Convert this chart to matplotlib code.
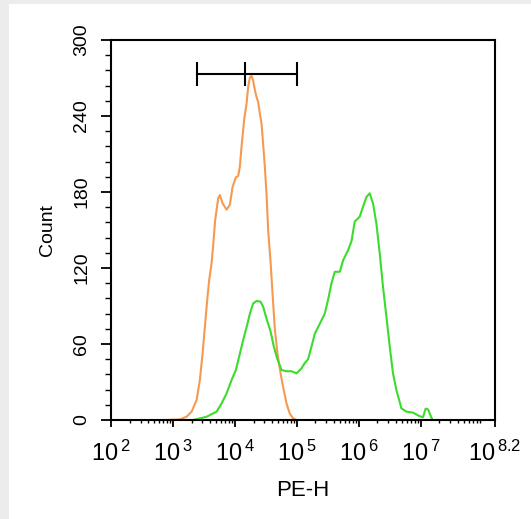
import matplotlib
matplotlib.use("Agg")
import matplotlib.pyplot as plt
from matplotlib.patches import Rectangle

# PE-H intensity vs count
orange_x = [743, 1297, 1663, 2005, 2411, 2723, 3013, 3283, 3575, 3848, 4207, 4467,
            4812, 5380, 5727, 6335, 7350, 8300, 9180, 10380, 11300, 12040, 12820,
            14130, 15450, 16400, 17470, 18590, 19730, 21020, 22390, 23770, 25300,
            26960, 28590, 30470, 32460, 34470, 37670, 40550, 44170, 48880, 54600,
            60160, 68230, 77100, 87160, 98850]
orange_y = [0, 0.5, 2.6, 6.6, 15.8, 31.6, 52.6, 73.7, 94.7, 110.5, 123.7, 138,
            158, 175, 177.6, 171, 166, 170, 184, 191.6, 192.6, 200, 216,
            237, 250, 263, 270.5, 271.6, 268, 260.5, 255, 251, 242,
            234, 218, 200, 178, 150, 125, 100, 72, 52, 37,
            26, 13, 5, 1.3, 0]

green_x = [2124, 3500, 5070, 6100, 7350, 8850, 10380, 11720, 13600, 15790, 17470,
           19730, 22390, 25990, 28590, 32460, 37670, 42560, 48100, 56620, 68230,
           82200, 98850, 119100, 134600, 152200, 172600, 195000, 234900, 283000,
           319900, 363000, 410300, 494200, 558500, 671800, 762100, 861100,
           1037000, 1173000, 1330000, 1503000, 1701000, 1928000, 2181000,
           2466000, 2797000, 3162000, 3575000, 4055000, 4884000, 5876000,
           7509000, 9636000, 10890000, 12040000, 13120000, 14330000, 15450000]
green_y = [0, 2.6, 6.6, 13, 21, 31.6, 39.5, 50, 63, 75, 84,
           92, 94, 93.4, 89.5, 80, 70, 58, 48.7, 39.5, 38.5,
           38.5, 36.8, 40.8, 45, 48, 58, 68, 76, 84,
           95, 108, 117, 117, 126, 134, 141, 156.6,
           160.5, 168.4, 176, 179, 171, 155, 131.6,
           105, 81.6, 58, 36.8, 23.7, 9.2, 6.6,
           5.8, 3, 2.2, 9, 8.4, 4, 0]

# gate bracket
gate_x = [2440, 14500, 99500]
gate_y = 273

y_ticks = [0, 60, 120, 180, 240, 300]
x_exps = [2, 3, 4, 5, 6, 7, 8.2]

plt.rcParams['font.family'] = ['Liberation Sans', 'DejaVu Sans']
plt.rcParams['mathtext.fontset'] = 'custom'
plt.rcParams['mathtext.rm'] = 'Liberation Sans'

fig = plt.figure(figsize=(5.31, 5.19), dpi=100, facecolor='#ececec')
fig.patches.append(Rectangle((9 / 531, 0), 1, 1 - 4 / 519, transform=fig.transFigure,
                             facecolor='white', edgecolor='none', zorder=-10))
ax = fig.add_axes([111 / 531, 99 / 519, 384 / 531, 380 / 519])

ax.plot(orange_x, orange_y, color='#f59a50', lw=1.5)
ax.plot(green_x, green_y, color='#3bdc2b', lw=1.5)
ax.plot(gate_x, [gate_y] * 3, color='black', lw=1.5, marker='|',
        markersize=17, markeredgewidth=1.5)

ax.set_xscale('log')
ax.set_xlim(10 ** 2, 10 ** 8.2)
ax.set_ylim(0, 300)

ax.set_xticks([10 ** e for e in x_exps])
ax.set_xticklabels([r'$\mathregular{10^{\,%s}}$' % (str(e)) for e in x_exps])
ax.xaxis.set_minor_locator(matplotlib.ticker.LogLocator(base=10, subs=range(2, 10), numticks=20))
ax.xaxis.set_minor_formatter(matplotlib.ticker.NullFormatter())

ax.set_yticks(y_ticks)
ax.set_yticklabels([str(v) for v in y_ticks], rotation=90, va='center')
ax.yaxis.set_minor_locator(matplotlib.ticker.MultipleLocator(12))

ax.tick_params(axis='x', which='major', length=5, width=1.3, labelsize=17, pad=10)
ax.tick_params(axis='x', which='minor', length=2.5, width=1)
ax.tick_params(axis='y', which='major', length=7, width=1.3, labelsize=14, pad=8)
ax.tick_params(axis='y', which='minor', length=4, width=1)
for s in ax.spines.values():
    s.set_linewidth(1.5)

ax.set_xlabel('PE-H', fontsize=16, labelpad=10)
ax.set_ylabel('Count', fontsize=14, labelpad=12)

fig.savefig('out.png', dpi=100, facecolor=fig.get_facecolor())
